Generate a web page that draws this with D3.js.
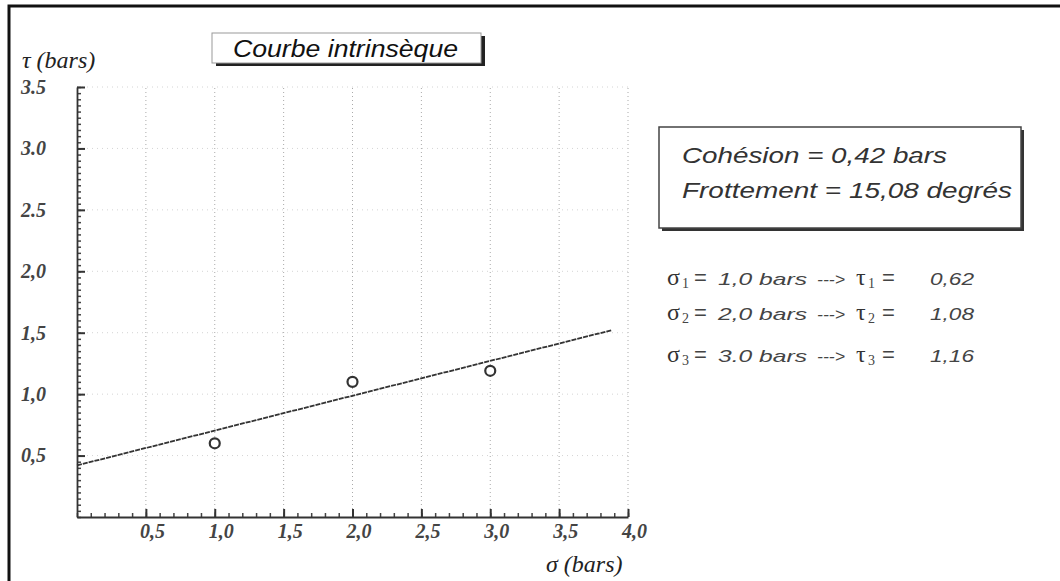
<!DOCTYPE html>
<html lang="fr">
<head>
<meta charset="utf-8">
<script src="https://cdn.jsdelivr.net/npm/d3@7"></script>
<style>
  body { margin: 0; background: #fff; }
  .tick text { font-family: "Liberation Serif", serif; font-style: italic; font-weight: bold; fill: #444; }
</style>
</head>
<body>
<svg id="chart" width="1060" height="581"></svg>
<script>
// values
var xTicks = [0.5, 1.0, 1.5, 2.0, 2.5, 3.0, 3.5, 4.0];
var xTickLabels = ["0,5", "1,0", "1,5", "2,0", "2,5", "3,0", "3,5", "4,0"];
var yTicks = [0.5, 1.0, 1.5, 2.0, 2.5, 3.0, 3.5];
var yTickLabels = ["0,5", "1,0", "1,5", "2,0", "2.5", "3.0", "3.5"];
var sigma = [1.0, 2.0, 3.0];          // essais
var tau = [0.60, 1.10, 1.19];          // points tracés
var tauText = ["0,62", "1,08", "1,16"];
var sigmaText = ["1,0", "2,0", "3.0"];
var fitSigma = [0, 3.88];              // droite intrinsèque
var fitTau = [0.42, 1.52];
var cohesion = "0,42";
var frottement = "15,08";

var svg = d3.select("#chart");

// cadre du scan
svg.append("rect")
  .attr("x", 9).attr("y", 6)
  .attr("width", 1070).attr("height", 600)
  .attr("fill", "none")
  .attr("stroke", "#111")
  .attr("stroke-width", 3);

var xScale = d3.scaleLinear().domain([0, 4]).range([77, 628]);
var yScale = d3.scaleLinear().domain([0, 3.5]).range([517, 87]);

// grille pointillée
svg.append("g").selectAll("line")
  .data(xTicks)
  .enter().append("line")
  .attr("x1", d => xScale(d)).attr("x2", d => xScale(d))
  .attr("y1", yScale(0)).attr("y2", yScale(3.5))
  .attr("stroke", "#aaa")
  .attr("stroke-width", 1)
  .attr("stroke-dasharray", "1,3");
svg.append("g").selectAll("line")
  .data(yTicks)
  .enter().append("line")
  .attr("x1", xScale(0)).attr("x2", xScale(4))
  .attr("y1", d => yScale(d)).attr("y2", d => yScale(d))
  .attr("stroke", "#d4d4d4")
  .attr("stroke-width", 1)
  .attr("stroke-dasharray", "1,4");

// petites graduations
svg.append("g")
  .attr("transform", "translate(" + xScale(0) + ",0)")
  .call(d3.axisLeft(yScale).tickValues(d3.range(0, 3.501, 0.05)).tickSize(-4).tickFormat(""))
  .call(g => g.select(".domain").remove())
  .selectAll("line").attr("stroke", "#444").attr("stroke-width", 1.5);
svg.append("g")
  .attr("transform", "translate(0," + yScale(0) + ")")
  .call(d3.axisBottom(xScale).tickValues(d3.range(0, 4.001, 0.1)).tickSize(-4).tickFormat(""))
  .call(g => g.select(".domain").remove())
  .selectAll("line").attr("stroke", "#444").attr("stroke-width", 1.5);

// axes
var yAxisG = svg.append("g")
  .attr("transform", "translate(" + xScale(0) + ",0)")
  .call(d3.axisLeft(yScale)
    .tickValues(yTicks)
    .tickSizeInner(-8).tickSizeOuter(0)
    .tickPadding(31)
    .tickFormat((d, i) => yTickLabels[i]));
yAxisG.select(".domain").attr("stroke", "#333").attr("stroke-width", 1.8);
yAxisG.selectAll(".tick line").attr("stroke", "#333").attr("stroke-width", 2);
yAxisG.selectAll(".tick text").attr("font-size", 20).style("font-size", "20px");

var xAxisG = svg.append("g")
  .attr("transform", "translate(0," + yScale(0) + ")")
  .call(d3.axisBottom(xScale)
    .tickValues(xTicks)
    .tickSizeInner(-8).tickSizeOuter(0)
    .tickPadding(7)
    .tickFormat((d, i) => xTickLabels[i]));
xAxisG.select(".domain").attr("stroke", "#333").attr("stroke-width", 2.2);
xAxisG.selectAll(".tick line").attr("stroke", "#333").attr("stroke-width", 2);
xAxisG.selectAll(".tick text").attr("font-size", 20).style("font-size", "20px").attr("x", 6);

// titres des axes
svg.append("text")
  .attr("x", 22).attr("y", 68)
  .style("font-family", "Liberation Serif, serif")
  .style("font-style", "italic")
  .style("font-size", "24px")
  .style("fill", "#222")
  .text("τ (bars)");
svg.append("text")
  .attr("x", 546).attr("y", 572)
  .style("font-family", "Liberation Serif, serif")
  .style("font-style", "italic")
  .style("font-size", "24px")
  .style("fill", "#222")
  .text("σ (bars)");

// droite intrinsèque
var fitData = fitSigma.map((s, i) => ({s: s, t: fitTau[i]}));
var lineGenerator = d3.line()
  .x(d => xScale(d.s))
  .y(d => yScale(d.t));
svg.append("path")
  .attr("d", lineGenerator(fitData))
  .attr("fill", "none")
  .attr("stroke", "#333")
  .attr("stroke-width", 1.8)
  .attr("stroke-dasharray", "5,1");

// points d'essai
svg.selectAll("circle.pt")
  .data(sigma)
  .enter().append("circle")
  .attr("class", "pt")
  .attr("r", 5)
  .attr("cx", d => xScale(d))
  .attr("cy", (d, i) => yScale(tau[i]))
  .attr("fill", "#fff")
  .attr("stroke", "#333")
  .attr("stroke-width", 2.2);

// cadre titre
svg.append("rect").attr("x", 216).attr("y", 36).attr("width", 269).attr("height", 30).attr("fill", "#222");
svg.append("rect").attr("x", 212).attr("y", 33).attr("width", 269).attr("height", 30)
  .attr("fill", "#fff").attr("stroke", "#999").attr("stroke-width", 1);
svg.append("text")
  .attr("x", 233).attr("y", 57)
  .attr("textLength", 225).attr("lengthAdjust", "spacingAndGlyphs")
  .style("font-family", "Liberation Sans, Arial, sans-serif")
  .style("font-style", "italic")
  .style("font-size", "24px")
  .style("fill", "#111")
  .text("Courbe intrinsèque");

// cadre résultats
svg.append("rect").attr("x", 662).attr("y", 130).attr("width", 362).attr("height", 101).attr("fill", "#333");
svg.append("rect").attr("x", 659).attr("y", 127).attr("width", 362).attr("height", 101)
  .attr("fill", "#fff").attr("stroke", "#444").attr("stroke-width", 1.5);
svg.append("text")
  .attr("x", 682).attr("y", 163)
  .attr("textLength", 265).attr("lengthAdjust", "spacingAndGlyphs")
  .style("font-family", "Liberation Sans, Arial, sans-serif")
  .style("font-style", "italic")
  .style("font-size", "22px")
  .style("fill", "#333")
  .text("Cohésion = " + cohesion + " bars");
svg.append("text")
  .attr("x", 682).attr("y", 198)
  .attr("textLength", 330).attr("lengthAdjust", "spacingAndGlyphs")
  .style("font-family", "Liberation Sans, Arial, sans-serif")
  .style("font-style", "italic")
  .style("font-size", "22px")
  .style("fill", "#333")
  .text("Frottement = " + frottement + " degrés");

// lignes σ -> τ
var rowY = [285, 320, 362];
sigma.forEach(function(s, i) {
  var g = svg.append("g").attr("transform", "translate(0," + rowY[i] + ")");
  var greek = (x, t) => g.append("text")
    .attr("x", x)
    .style("font-family", "Liberation Serif, serif")
    .style("font-size", "24px")
    .style("fill", "#333")
    .text(t);
  var sub = x => g.append("text")
    .attr("x", x).attr("y", 3)
    .style("font-family", "Liberation Serif, serif")
    .style("font-size", "14px")
    .style("fill", "#444")
    .text(i + 1);
  var eq = x => g.append("text")
    .attr("x", x)
    .style("font-family", "Liberation Sans, Arial, sans-serif")
    .style("font-size", "22px")
    .style("fill", "#444")
    .text("=");
  var sans = (x, len, t) => g.append("text")
    .attr("x", x)
    .attr("textLength", len).attr("lengthAdjust", "spacingAndGlyphs")
    .style("font-family", "Liberation Sans, Arial, sans-serif")
    .style("font-style", "italic")
    .style("font-size", "17px")
    .style("fill", "#444")
    .text(t);
  greek(667, "σ");
  sub(682);
  eq(694);
  sans(718, 89, sigmaText[i] + " bars");
  sans(817, 28, "--->");
  greek(856, "τ");
  sub(868);
  eq(882);
  sans(930, 44, tauText[i]);
});
</script>
</body>
</html>
